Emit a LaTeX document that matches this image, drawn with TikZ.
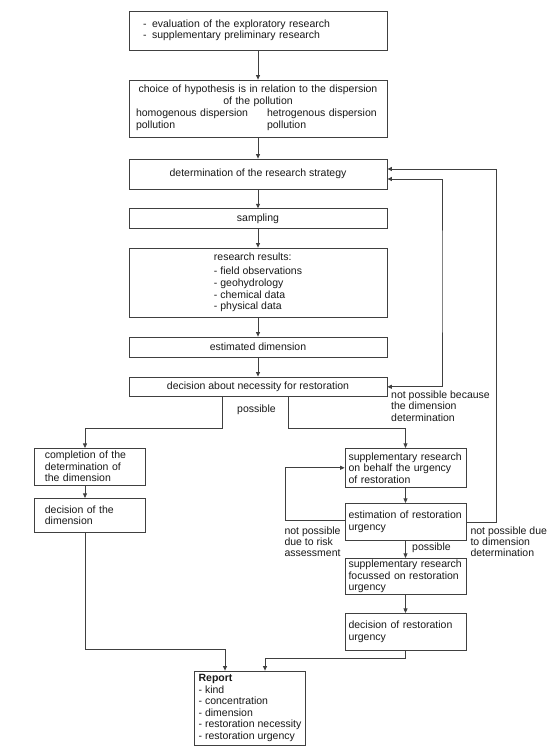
\documentclass[tikz,border=0pt]{standalone}
\usepackage{fontspec}
\setmainfont{Liberation Sans}
\usetikzlibrary{arrows.meta}
\hyphenpenalty=10000
\exhyphenpenalty=10000
\begin{document}
\begin{tikzpicture}[x=1pt,y=-1pt,
  box/.style={draw=black!75, line width=0.8pt, inner ysep=0pt, align=left,
    font=\fontsize{10.5}{11.5}\selectfont, text=black!90},
  cbox/.style={box, minimum width=258, inner xsep=0pt},
  rbox/.style={box, text width=114, inner xsep=3.5},
  lbox/.style={box, text width=90, inner xsep=10.15},
  lbl/.style={align=left, inner sep=0pt, anchor=west, text=black!90,
    font=\fontsize{10.5}{11.3}\selectfont},
  arr/.style={draw=black!75, line width=0.8pt, -{Triangle[length=4.5pt,width=4pt]}},
  arrb/.style={draw=black!75, line width=0.8pt,
    {Triangle[length=4.5pt,width=4pt]}-{Triangle[length=4.5pt,width=4pt]}}
]
\useasboundingbox (0,0) rectangle (552,747);
\fill[white] (0,0) rectangle (552,747);

% main column
\node[box, text width=230, inner xsep=14, minimum height=39] (top) at (258,30.5)
  {\makebox[9pt][l]{-}evaluation of the exploratory research\\
   \makebox[9pt][l]{-}supplementary preliminary research};
\node[box, align=center, text width=244, inner xsep=7, minimum height=57,
  font=\fontsize{10.5}{12}\selectfont] (hyp) at (258,108.5)
  {choice of hypothesis is in relation to the dispersion\\ of the pollution\\[-0.2pt]
   \begin{tabular}{@{}p{131pt}@{}p{113pt}@{}}
   homogenous dispersion\newline pollution & hetrogenous dispersion\newline pollution
   \end{tabular}};
\node[cbox, minimum height=30] (strat) at (258,174) {determination of the research strategy};
\node[cbox, minimum height=20] (samp) at (258,218.7) {sampling};
\node[cbox, minimum height=69, font=\fontsize{10.5}{11.8}\selectfont] (res) at (258,282.5)
  {research results:\\[2pt]- field observations\\- geohydrology\\- chemical data\\- physical data};
\node[cbox, minimum height=20] (estd) at (258,347) {estimated dimension};
\node[cbox, minimum height=19.7] (dec) at (258,386.8) {decision about necessity for restoration};

% left column
\node[lbox, minimum height=36.7] (compl) at (89.9,466.7)
  {completion of the\\determination of\\the dimension};
\node[lbox, minimum height=34] (decdim) at (89.9,515.3)
  {decision of the\\dimension};

% right column
\node[rbox, minimum height=39] (supp) at (405.5,467.8)
  {supplementary research\\on behalf the urgency\\of restoration};
\node[rbox, minimum height=37.4] (est) at (405.5,522)
  {estimation of restoration\\urgency};
\node[rbox, minimum height=36] (suppfoc) at (405.5,576.3)
  {supplementary research\\focussed on restoration\\urgency};
\node[rbox, minimum height=36.7] (decurg) at (405.5,631.7)
  {decision of restoration\\urgency};

% report
\node[box, minimum width=111.4, inner xsep=0pt, minimum height=74] (rep) at (250,708)
  {\textbf{Report}\\- kind\\- concentration\\- dimension\\- restoration necessity\\- restoration urgency};

% helper coordinates
\coordinate (lx) at (85,0);
\coordinate (bl) at (85,428.5);
\coordinate (br) at (405.5,428.5);
\coordinate (bl2) at (225,649.3);
\coordinate (br2) at (265,658.7);
\coordinate (lp1) at (442,280);
\coordinate (lp2) at (496.7,300);
\coordinate (lp3) at (285.3,500);

% straight connectors
\draw[arr] (top.south) -- (hyp.north);
\draw[arr] (hyp.south) -- (strat.north);
\draw[arr] (strat.south) -- (samp.north);
\draw[arr] (samp.south) -- (res.north);
\draw[arr] (res.south) -- (estd.north);
\draw[arr] (estd.south) -- (dec.north);

% branches
\draw[arr] ([xshift=-35.7pt]dec.south) |- (bl) -- (bl |- compl.north);
\draw[arr] ([xshift=30.3pt]dec.south) |- (br) -- (supp.north);
\draw[arr] (compl.south -| lx) -- (decdim.north -| lx);
\draw[arr] (supp.south) -- (est.north);
\draw[arr] (est.south) -- (suppfoc.north);
\draw[arr] (suppfoc.south) -- (decurg.north);
\draw[arr] (decdim.south -| lx) |- (bl2) -- (bl2 |- rep.north);
\draw[arr] (decurg.south) |- (br2) -- (br2 |- rep.north);

% feedback loops
\draw[arrb] ([yshift=-5pt]strat.east) -| (lp1) |- (dec.east);
\draw[arr] (est.east) -| (lp2) |- ([yshift=5pt]strat.east);
\draw[arr] ([yshift=2pt]est.west) -| (lp3) |- (supp.west);

% labels
\node[lbl] (lposs) at (237,409.3) {possible};
\node[lbl] (lnp1) at (391,406) {not possible because\\the dimension\\determination};
\node[lbl] (lnp2) at (284.3,541.8) {not possible\\due to risk\\assessment};
\node[lbl] (lnp3) at (470.3,541.8) {not possible due\\to dimension\\determination};
\node[lbl] (lposs2) at (412,547.7) {possible};
\end{tikzpicture}
\end{document}
